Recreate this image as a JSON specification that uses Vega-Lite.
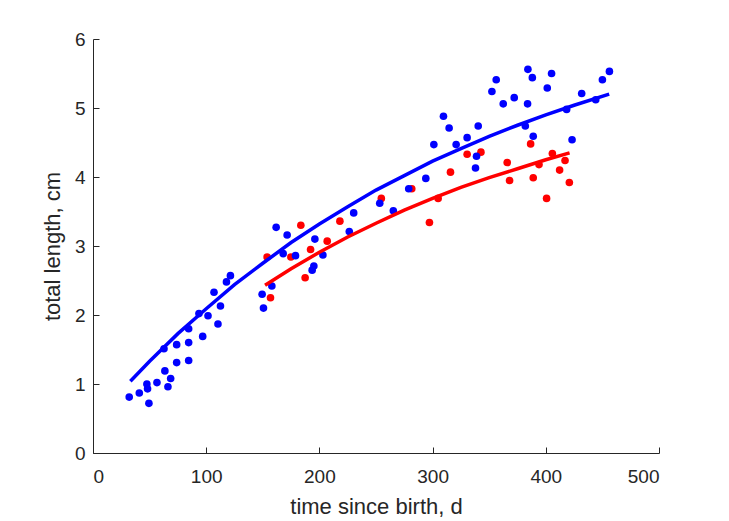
{
  "$schema": "https://vega.github.io/schema/vega-lite/v6.json",
  "width": 566,
  "height": 414,
  "autosize": "none",
  "padding": {"left": 93, "top": 39, "right": 70, "bottom": 68},
  "background": "white",
  "config": {
    "view": {"stroke": null},
    "axis": {
      "grid": false,
      "domainColor": "#262626",
      "tickColor": "#262626",
      "labelColor": "#262626",
      "titleColor": "#262626",
      "labelFont": "Liberation Sans",
      "titleFont": "Liberation Sans",
      "labelFontSize": 19,
      "titleFontSize": 22,
      "titleFontWeight": "normal",
      "tickSize": -6,
      "tickWidth": 1,
      "domainWidth": 1,
      "format": "d"
    }
  },
  "datasets": {
    "points": [
      {"t": 156.8, "L": 2.25, "group": "red"},
      {"t": 153.8, "L": 2.84, "group": "red"},
      {"t": 174.8, "L": 2.84, "group": "red"},
      {"t": 183.6, "L": 3.30, "group": "red"},
      {"t": 187.4, "L": 2.54, "group": "red"},
      {"t": 192.2, "L": 2.95, "group": "red"},
      {"t": 206.9, "L": 3.07, "group": "red"},
      {"t": 218.1, "L": 3.36, "group": "red"},
      {"t": 254.7, "L": 3.69, "group": "red"},
      {"t": 281.6, "L": 3.83, "group": "red"},
      {"t": 297.2, "L": 3.34, "group": "red"},
      {"t": 304.9, "L": 3.69, "group": "red"},
      {"t": 315.8, "L": 4.07, "group": "red"},
      {"t": 330.5, "L": 4.33, "group": "red"},
      {"t": 342.7, "L": 4.36, "group": "red"},
      {"t": 365.9, "L": 4.21, "group": "red"},
      {"t": 368.0, "L": 3.95, "group": "red"},
      {"t": 386.6, "L": 4.48, "group": "red"},
      {"t": 388.9, "L": 3.99, "group": "red"},
      {"t": 394.0, "L": 4.18, "group": "red"},
      {"t": 400.7, "L": 3.69, "group": "red"},
      {"t": 405.8, "L": 4.34, "group": "red"},
      {"t": 412.2, "L": 4.10, "group": "red"},
      {"t": 417.0, "L": 4.24, "group": "red"},
      {"t": 420.8, "L": 3.92, "group": "red"},
      {"t": 32.0, "L": 0.81, "group": "blue"},
      {"t": 40.9, "L": 0.87, "group": "blue"},
      {"t": 47.6, "L": 1.00, "group": "blue"},
      {"t": 48.2, "L": 0.93, "group": "blue"},
      {"t": 49.4, "L": 0.72, "group": "blue"},
      {"t": 56.5, "L": 1.02, "group": "blue"},
      {"t": 66.2, "L": 0.96, "group": "blue"},
      {"t": 68.6, "L": 1.08, "group": "blue"},
      {"t": 63.5, "L": 1.19, "group": "blue"},
      {"t": 73.9, "L": 1.31, "group": "blue"},
      {"t": 84.5, "L": 1.34, "group": "blue"},
      {"t": 73.9, "L": 1.57, "group": "blue"},
      {"t": 62.7, "L": 1.51, "group": "blue"},
      {"t": 84.5, "L": 1.60, "group": "blue"},
      {"t": 96.9, "L": 1.69, "group": "blue"},
      {"t": 110.4, "L": 1.87, "group": "blue"},
      {"t": 84.5, "L": 1.80, "group": "blue"},
      {"t": 93.6, "L": 2.02, "group": "blue"},
      {"t": 101.6, "L": 1.99, "group": "blue"},
      {"t": 112.6, "L": 2.13, "group": "blue"},
      {"t": 106.9, "L": 2.33, "group": "blue"},
      {"t": 117.9, "L": 2.48, "group": "blue"},
      {"t": 121.4, "L": 2.57, "group": "blue"},
      {"t": 150.6, "L": 2.10, "group": "blue"},
      {"t": 149.4, "L": 2.30, "group": "blue"},
      {"t": 158.0, "L": 2.42, "group": "blue"},
      {"t": 161.8, "L": 3.27, "group": "blue"},
      {"t": 171.5, "L": 3.16, "group": "blue"},
      {"t": 168.0, "L": 2.89, "group": "blue"},
      {"t": 178.9, "L": 2.86, "group": "blue"},
      {"t": 196.0, "L": 3.10, "group": "blue"},
      {"t": 203.1, "L": 2.87, "group": "blue"},
      {"t": 195.1, "L": 2.71, "group": "blue"},
      {"t": 193.6, "L": 2.65, "group": "blue"},
      {"t": 230.3, "L": 3.48, "group": "blue"},
      {"t": 226.4, "L": 3.21, "group": "blue"},
      {"t": 253.3, "L": 3.62, "group": "blue"},
      {"t": 265.3, "L": 3.51, "group": "blue"},
      {"t": 278.9, "L": 3.83, "group": "blue"},
      {"t": 294.0, "L": 3.98, "group": "blue"},
      {"t": 301.1, "L": 4.47, "group": "blue"},
      {"t": 309.6, "L": 4.88, "group": "blue"},
      {"t": 314.6, "L": 4.71, "group": "blue"},
      {"t": 320.8, "L": 4.47, "group": "blue"},
      {"t": 330.5, "L": 4.57, "group": "blue"},
      {"t": 340.3, "L": 4.74, "group": "blue"},
      {"t": 338.8, "L": 4.30, "group": "blue"},
      {"t": 337.9, "L": 4.13, "group": "blue"},
      {"t": 352.4, "L": 5.24, "group": "blue"},
      {"t": 356.2, "L": 5.41, "group": "blue"},
      {"t": 362.4, "L": 5.06, "group": "blue"},
      {"t": 372.1, "L": 5.15, "group": "blue"},
      {"t": 384.2, "L": 5.56, "group": "blue"},
      {"t": 388.1, "L": 5.44, "group": "blue"},
      {"t": 383.9, "L": 5.06, "group": "blue"},
      {"t": 381.9, "L": 4.74, "group": "blue"},
      {"t": 388.9, "L": 4.59, "group": "blue"},
      {"t": 401.3, "L": 5.29, "group": "blue"},
      {"t": 405.1, "L": 5.50, "group": "blue"},
      {"t": 418.4, "L": 4.98, "group": "blue"},
      {"t": 423.2, "L": 4.54, "group": "blue"},
      {"t": 431.7, "L": 5.21, "group": "blue"},
      {"t": 444.1, "L": 5.12, "group": "blue"},
      {"t": 450.0, "L": 5.41, "group": "blue"},
      {"t": 456.2, "L": 5.53, "group": "blue"}
    ],
    "fit": [
      {"t": 33, "L": 1.04, "group": "blue"},
      {"t": 50, "L": 1.33, "group": "blue"},
      {"t": 75, "L": 1.73, "group": "blue"},
      {"t": 100, "L": 2.09, "group": "blue"},
      {"t": 125, "L": 2.44, "group": "blue"},
      {"t": 150, "L": 2.75, "group": "blue"},
      {"t": 175, "L": 3.05, "group": "blue"},
      {"t": 200, "L": 3.32, "group": "blue"},
      {"t": 225, "L": 3.57, "group": "blue"},
      {"t": 250, "L": 3.81, "group": "blue"},
      {"t": 275, "L": 4.02, "group": "blue"},
      {"t": 300, "L": 4.23, "group": "blue"},
      {"t": 325, "L": 4.41, "group": "blue"},
      {"t": 350, "L": 4.59, "group": "blue"},
      {"t": 375, "L": 4.75, "group": "blue"},
      {"t": 400, "L": 4.90, "group": "blue"},
      {"t": 425, "L": 5.04, "group": "blue"},
      {"t": 456, "L": 5.20, "group": "blue"},
      {"t": 152, "L": 2.43, "group": "red"},
      {"t": 175, "L": 2.67, "group": "red"},
      {"t": 200, "L": 2.91, "group": "red"},
      {"t": 225, "L": 3.13, "group": "red"},
      {"t": 250, "L": 3.33, "group": "red"},
      {"t": 275, "L": 3.52, "group": "red"},
      {"t": 300, "L": 3.69, "group": "red"},
      {"t": 325, "L": 3.85, "group": "red"},
      {"t": 350, "L": 3.99, "group": "red"},
      {"t": 375, "L": 4.12, "group": "red"},
      {"t": 400, "L": 4.25, "group": "red"},
      {"t": 421, "L": 4.35, "group": "red"}
    ]
  },
  "layer": [
    {
      "data": {"name": "points"},
      "mark": {"type": "circle", "size": 58, "opacity": 1},
      "encoding": {
        "x": {
          "field": "t", "type": "quantitative",
          "scale": {"domain": [0, 500], "nice": false},
          "axis": {"values": [0, 100, 200, 300, 400, 500], "title": "time since birth, d", "labelPadding": 20, "titlePadding": 10}
        },
        "y": {
          "field": "L", "type": "quantitative",
          "scale": {"domain": [0, 6], "nice": false},
          "axis": {"values": [0, 1, 2, 3, 4, 5, 6], "title": "total length, cm", "labelPadding": 14, "titlePadding": 10}
        },
        "color": {
          "field": "group", "type": "nominal",
          "scale": {"domain": ["blue", "red"], "range": ["#0000ff", "#ff0000"]},
          "legend": null
        }
      }
    },
    {
      "data": {"name": "fit"},
      "mark": {"type": "line", "strokeWidth": 3.5},
      "encoding": {
        "x": {"field": "t", "type": "quantitative"},
        "y": {"field": "L", "type": "quantitative"},
        "color": {"field": "group", "type": "nominal", "legend": null}
      }
    }
  ]
}
